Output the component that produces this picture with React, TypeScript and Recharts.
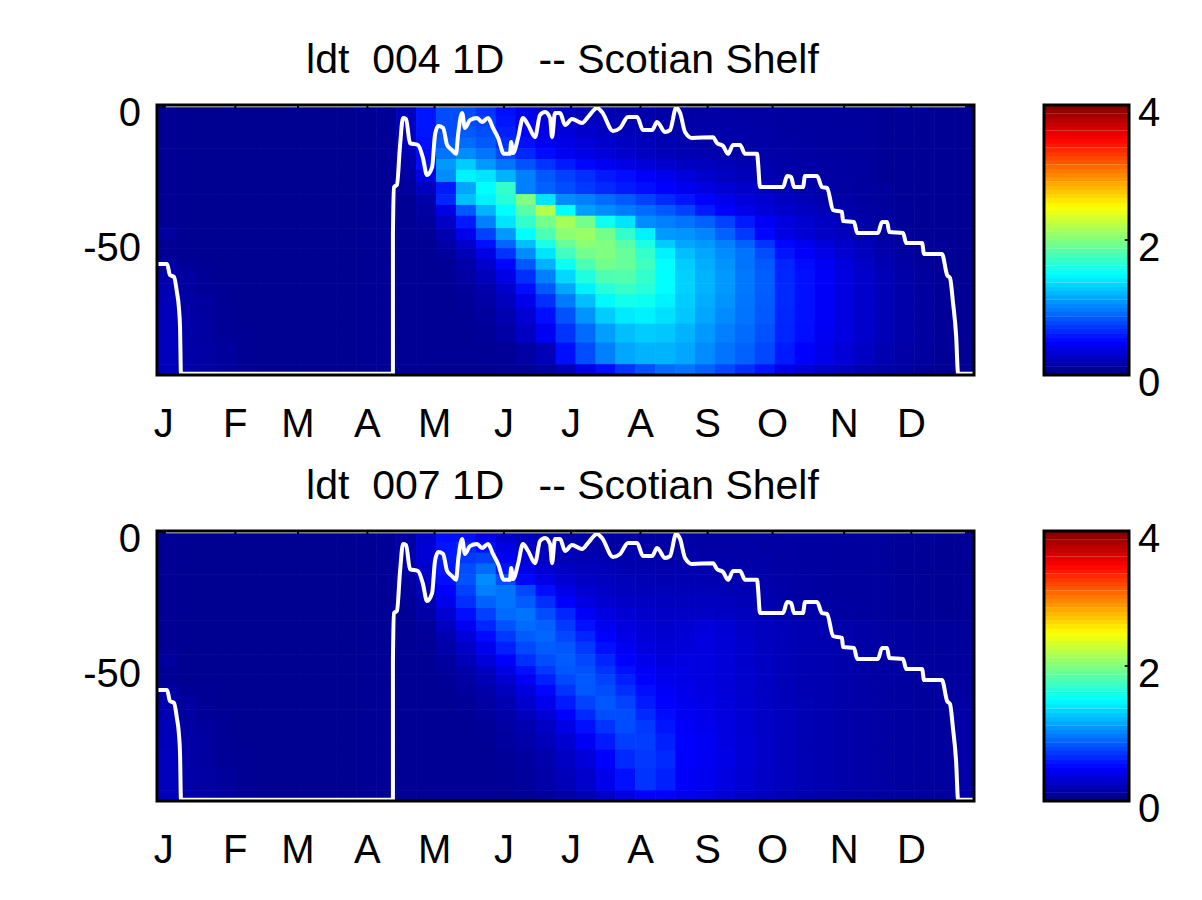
import React from "react";
import { ComposedChart, Scatter, Line, XAxis, YAxis, ReferenceArea, ReferenceLine } from "recharts";

const FONT = "'Liberation Sans', Arial, sans-serif";
const monthLabels = ["J", "F", "M", "A", "M", "J", "J", "A", "S", "O", "N", "D"];
const monthTicks = [3, 35, 63, 94, 124, 155, 185, 216, 246, 275, 307, 337];
const depthTicks = [-50, 0];
const colorTicks = [0, 2, 4];
const titles = ["ldt  004 1D   -- Scotian Shelf", "ldt  007 1D   -- Scotian Shelf"];
const depthEdges = [0, 4, 8, 12, 16, 20, 24, 28.5, 33, 37, 41, 45.6, 50, 53, 57, 61, 66, 70, 75, 81, 88, 96, 100];

const colorLevels = [
  0.03, 0.09, 0.16, 0.22, 0.28, 0.34, 0.41, 0.47, 0.53, 0.59, 0.66, 0.72, 0.78, 0.84, 0.91, 0.97,
  1.03, 1.09, 1.16, 1.22, 1.28, 1.34, 1.41, 1.47, 1.53, 1.59, 1.66, 1.72, 1.78, 1.84, 1.91, 1.97,
  2.03, 2.09, 2.16, 2.22, 2.28, 2.34, 2.41, 2.47, 2.53, 2.59, 2.66, 2.72, 2.78, 2.84, 2.91, 2.97,
  3.03, 3.09, 3.16, 3.22, 3.28, 3.34, 3.41, 3.47, 3.53, 3.59, 3.66, 3.72, 3.78, 3.84, 3.91, 3.97,
];

const mixedLayerDay = [0.4, 4.5, 5.8, 7.6, 8.9, 9.8, 10.3, 10.7, 105.4, 105.4, 105.4, 105.9, 107.2, 108.6, 109.9, 111.3, 113, 116.6, 118.8, 120.6, 122.9, 124.2, 125.6, 127.8, 129.6, 131.8, 133.6, 134.5, 136.3, 137.6, 139.8, 143, 145.2, 147.9, 150.1, 152.4, 155, 157.7, 158.2, 159.1, 161.3, 163.5, 165.8, 168.9, 171.1, 173.4, 175.6, 176.5, 177.8, 180.1, 182.3, 185.4, 189.9, 192.6, 196.6, 198.8, 203.7, 206.9, 210.4, 214.5, 217.1, 221.2, 223.4, 227, 229.2, 231.9, 233.7, 235.9, 239, 248.4, 250.2, 252.9, 255.1, 257.4, 260.5, 262.7, 268.1, 268.5, 269.4, 279.7, 281.5, 283.3, 284.6, 288.6, 289.5, 294.9, 297.1, 299.4, 302, 306, 306.5, 311.4, 312.8, 322.1, 323.9, 326.2, 327.1, 333.3, 334.7, 341.8, 342.7, 350.7, 353, 354.3, 355.6, 357, 357.9, 365];
const mixedLayerDepth = [-58.9, -58.9, -63, -63.7, -69.3, -75.2, -82.6, -99.5, -99.5, -82.6, -48.1, -30.4, -29.6, -14.8, -4.8, -5.2, -14.1, -14.8, -19.6, -25.9, -23, -11.1, -7.8, -8.5, -14.8, -16.7, -18.1, -11.1, -3, -8.5, -5.6, -4.8, -6.3, -4.8, -8.5, -12.2, -18.1, -18.1, -13.7, -17.8, -12.2, -4.8, -7.4, -11.9, -3.7, -2.6, -4.8, -11.9, -3, -3, -7.4, -5.2, -6.7, -4.4, -1.1, -2.6, -9.6, -8.5, -4.4, -4.4, -9.3, -9.3, -6.3, -10, -9.3, -1.1, -3, -10, -12.2, -11.9, -14.1, -15.2, -18.1, -14.8, -14.8, -18.1, -18.1, -21.1, -30.4, -30.4, -26.3, -26.7, -30.4, -30.4, -26.3, -26.3, -30.4, -30.7, -38.9, -39.6, -43, -43.3, -47.4, -47.4, -43.3, -43.3, -47, -47.4, -51.1, -51.1, -55.2, -55.2, -63, -64.1, -73, -85.2, -99.5, -99.5];

const L0 = [8, 7, 7, 7, 7, 7, 7, 7, 7, 7, 8];
const L11 = [12, 7, 7, 7, 7, 7, 7, 7, 7, 7, 8];
const L14 = [16, 10, 8, 7, 7, 7, 7, 7, 7, 7, 8];
const L15 = [18, 12, 9, 7, 7, 7, 7, 7, 7, 7, 8];
const L16 = [20, 13, 10, 8, 7, 7, 7, 7, 7, 7, 8];
const L17 = [22, 14, 12, 8, 7, 7, 7, 7, 7, 7, 8];
const L18 = [23, 15, 13, 9, 7, 7, 7, 7, 7, 7, 8];
const L19 = [24, 15, 13, 10, 8, 7, 7, 7, 7, 7, 8];
const L20 = [24, 16, 14, 11, 8, 7, 7, 7, 7, 7, 8];
const L21 = [24, 16, 14, 12, 9, 7, 7, 7, 7, 7, 8];

const heat004 = [
  [...L0, 10,24,58,80,80,70,55,42,32,26, 22,20,18,17,16,15,15,15,14,14, 12,12,12,11,11,10,9,9,8,8],
  [...L0, 10,24,58,80,80,75,58,45,36,30, 26,23,20,18,17,16,16,15,15,14, 13,12,12,11,11,10,9,9,8,8],
  [...L0, 10,24,58,80,85,80,62,50,42,36, 30,26,23,20,18,17,16,16,15,15, 13,13,12,12,11,10,9,9,8,8],
  [...L0, 10,23,56,85,92,85,68,55,46,40, 35,30,26,23,20,18,17,17,16,15, 14,13,12,12,11,10,9,9,8,8],
  [...L0, 10,20,53,95,105,95,78,65,54,45, 40,35,30,26,23,20,19,18,17,16, 15,14,13,12,11,10,9,9,8,8],
  [...L0, 10,17,55,110,130,110,95,82,70,60, 52,46,40,35,30,27,24,22,20,18, 16,15,14,13,12,10,9,9,8,8],
  [...L0, 9,14,40,105,145,140,120,100,85,75, 68,60,55,48,42,36,30,26,23,20, 17,16,14,13,12,10,9,9,8,8],
  [...L0, 8,12,25,60,115,150,170,100,88,80, 72,66,60,55,50,44,38,33,29,25, 21,18,16,14,12,11,9,9,8,8],
  [...L0, 8,10,18,65,125,145,165,200,140,105, 100,92,85,75,66,58,50,42,36,31, 26,22,18,15,13,11,10,9,8,8],
  [...L0, 8,9,14,40,85,120,150,185,220,150, 112,105,98,92,85,75,60,50,42,35, 30,26,22,18,14,12,10,9,8,8],
  [...L0, 8,8,12,28,60,100,140,170,195,215, 195,155,140,105,100,95,88,75,60,47, 38,32,27,22,17,13,10,9,8,8],
  [...L11, 8,8,10,20,42,75,110,150,180,205, 210,195,170,145,110,108,102,88,72,52, 40,34,28,24,19,14,11,9,8,8],
  [...L0, 8,8,9,15,30,55,90,125,160,190, 205,200,185,160,130,115,110,100,88,70, 52,44,36,28,22,16,12,10,9,8],
  [...L0, 8,8,8,12,22,40,70,105,140,175, 195,200,190,170,145,125,115,105,95,80, 58,48,40,32,25,18,13,10,9,8],
  [...L14, 8,8,8,10,17,30,52,85,120,155, 180,195,190,175,150,130,118,108,95,85, 64,54,46,36,28,20,15,11,9,8],
  [...L15, 8,8,8,9,14,23,40,68,100,135, 162,180,182,170,150,132,120,110,97,87, 65,56,48,38,30,22,16,12,10,8],
  [...L16, 8,8,8,8,12,18,30,55,85,115, 145,165,172,165,150,132,120,110,97,87, 66,56,48,38,30,22,17,13,10,8],
  [...L17, 8,8,8,8,10,15,24,42,68,98, 125,148,158,155,145,130,118,108,96,86, 66,56,48,38,30,22,17,13,10,8],
  [...L18, 8,8,8,8,9,12,19,33,55,82, 108,130,142,145,138,128,115,105,95,85, 65,56,48,38,30,22,17,13,10,8],
  [...L19, 8,8,8,8,8,10,15,26,45,70, 92,112,125,130,128,120,110,100,92,82, 64,55,46,38,30,22,17,13,10,8],
  [...L20, 8,8,8,8,8,9,10,14,22,55, 80,100,115,120,120,115,105,95,88,78, 60,50,42,34,27,20,15,12,9,8],
  [...L21, 8,8,8,8,8,8,9,10,14,22, 40,55,70,82,92,95,88,78,68,58, 42,36,30,25,20,16,13,10,9,8],
];

const heat007 = [
  [...L0, 10,14,30,55,55,42,30,24,20,18, 16,15,14,14,14,14,14,14,14,13, 13,13,12,12,11,11,10,10,9,9],
  [...L0, 10,15,33,58,65,55,38,28,22,19, 18,17,16,15,15,15,15,15,15,14, 14,13,13,12,12,11,10,10,9,9],
  [...L0, 10,15,33,60,72,75,45,33,26,22, 20,19,18,17,16,16,16,16,15,15, 14,13,13,12,12,11,10,10,9,9],
  [...L0, 10,14,30,58,80,92,58,42,33,27, 24,22,20,19,18,18,18,17,17,16, 14,13,13,12,12,11,10,10,9,9],
  [...L0, 10,13,27,55,82,105,80,52,40,32, 27,25,22,21,20,20,20,19,18,17, 15,14,13,12,12,11,10,10,9,9],
  [...L0, 9,12,22,50,75,100,95,78,55,40, 32,28,25,23,22,22,22,21,20,18, 16,14,13,12,12,11,10,10,9,9],
  [...L0, 8,10,18,42,68,88,95,86,68,50, 38,32,28,26,25,25,25,24,22,20, 17,15,14,13,12,11,10,10,9,9],
  [...L0, 8,9,15,32,55,75,92,95,80,65, 48,38,33,30,28,28,28,27,25,22, 18,16,15,13,12,11,10,10,9,9],
  [...L0, 8,8,12,25,45,65,82,92,88,72, 56,44,37,33,30,32,36,33,28,24, 22,20,19,17,15,14,13,11,11,11],
  [...L0, 8,8,10,20,36,54,72,86,90,78, 64,50,41,35,32,34,38,34,29,25, 22,20,19,17,15,14,13,11,11,11],
  [...L0, 8,8,9,16,28,44,62,78,86,84, 72,56,45,38,34,36,38,34,30,25, 22,20,19,17,15,14,13,11,11,12],
  [...L11, 8,8,8,13,22,35,50,68,80,86, 78,64,50,42,37,38,38,35,30,26, 22,20,19,17,15,14,13,11,11,12],
  [...L0, 8,8,8,11,17,27,40,56,72,84, 82,70,56,46,40,40,38,35,31,26, 22,20,19,17,15,14,13,11,11,12],
  [...L0, 8,8,8,10,14,21,32,46,62,78, 85,76,62,50,43,40,38,35,31,27, 22,20,19,17,15,14,13,11,11,12],
  [...L14, 8,8,8,9,12,17,25,37,52,70, 84,80,68,55,46,42,38,35,31,27, 23,20,19,17,15,14,13,11,12,13],
  [...L15, 8,8,8,8,10,14,20,30,43,60, 76,84,76,60,50,44,40,36,32,27, 23,21,19,17,15,14,13,11,12,14],
  [...L16, 8,8,8,8,9,12,17,24,34,50, 66,80,80,66,54,46,42,37,33,28, 24,21,19,17,15,14,13,11,12,15],
  [...L17, 8,8,8,8,8,10,14,19,27,40, 56,70,80,72,58,48,43,38,33,28, 24,21,19,17,15,14,13,12,12,15],
  [...L18, 8,8,8,8,8,9,12,16,22,32, 46,60,74,74,62,50,45,39,34,29, 24,21,19,17,15,14,13,12,12,15],
  [...L19, 8,8,8,8,8,8,10,13,18,26, 36,50,66,72,66,50,46,40,34,29, 24,21,19,17,15,14,13,12,12,15],
  [...L20, 8,8,8,8,8,8,9,11,16,22, 30,42,56,70,62,48,44,38,33,28, 24,21,19,17,15,14,13,12,12,15],
  [...L21, 8,8,8,8,8,8,8,9,12,17, 22,30,40,50,50,44,40,35,30,26, 22,20,18,16,15,14,13,12,12,15],
];

const clamp01 = (n: number) => Math.max(0, Math.min(1, n));
const jet = (value: number) => {
  const t = value / 4;
  const r = clamp01(Math.min(4 * t - 1.5, -4 * t + 4.5));
  const g = clamp01(Math.min(4 * t - 0.5, -4 * t + 3.5));
  const b = clamp01(Math.min(4 * t + 0.5, -4 * t + 2.5));
  return `rgb(${Math.round(r * 255)},${Math.round(g * 255)},${Math.round(b * 255)})`;
};

const PLOT_W = 817;
const PLOT_H = 270;
const DAYS = 365;

const toCells = (rows: number[][]) =>
  rows.flatMap((row, r) =>
    row.map((v, c) => {
      const dx = DAYS / row.length;
      return {
        x: (c + 0.5) * dx,
        y: -(depthEdges[r] + depthEdges[r + 1]) / 2,
        v: v / 100,
        dx,
        dy: depthEdges[r + 1] - depthEdges[r],
      };
    })
  );

const mixedLayer = mixedLayerDay.map((x, i) => ({ x, y: mixedLayerDepth[i] }));
const colorCells = colorLevels.map((y) => ({ x: 0.5, y, v: y }));

const HeatCell = (p: any) => {
  const w = (p.payload.dx * PLOT_W) / DAYS;
  const h = (p.payload.dy * PLOT_H) / 100;
  return <rect x={p.cx - w / 2} y={p.cy - h / 2} width={w + 0.6} height={h + 0.6} fill={jet(p.payload.v)} />;
};

const ColorCell = (p: any) => {
  const h = PLOT_H / colorLevels.length;
  return <rect x={p.cx - 42.5} y={p.cy - h / 2} width={85} height={h + 0.6} fill={jet(p.payload.v)} />;
};

const txt = { fontFamily: FONT, fontSize: 40, fill: "#000" };

const MonthTick = (p: any) => (
  <text x={p.x} y={p.y + 60} textAnchor="middle" {...txt}>
    {monthLabels[monthTicks.indexOf(p.payload.value)]}
  </text>
);
const DepthTick = (p: any) => (
  <text x={p.x} y={p.y + 21} textAnchor="end" {...txt}>
    {p.payload.value}
  </text>
);
const ColorTick = (p: any) => (
  <text x={p.x} y={p.y + 21} textAnchor="start" {...txt}>
    {p.payload.value}
  </text>
);

const Panel = ({ rows, title, top }: { rows: number[][]; title: string; top: number }) => (
  <>
    <div style={{ position: "absolute", left: 0, top }}>
      <ComposedChart width={1202} height={450} margin={{ top: 105, left: 57, right: 228, bottom: 0 }}>
        <XAxis
          dataKey="x"
          type="number"
          domain={[0, DAYS]}
          ticks={monthTicks}
          interval={0}
          axisLine={false}
          tickLine={false}
          tickSize={0}
          height={75}
          tick={MonthTick}
          allowDataOverflow
        />
        <YAxis
          dataKey="y"
          type="number"
          domain={[-100, 0]}
          ticks={depthTicks}
          interval={0}
          axisLine={false}
          tickLine={false}
          tickSize={0}
          width={100}
          tick={(p: any) => <DepthTick {...p} x={141} />}
          allowDataOverflow
        />
        <Scatter data={toCells(rows)} shape={HeatCell} isAnimationActive={false} zIndex={0} />
        <Line data={mixedLayer} dataKey="y" stroke="#fff" strokeWidth={4} strokeLinejoin="round" dot={false} type="monotoneX" isAnimationActive={false} zIndex={700} />
        <ReferenceLine segment={[{ x: 4, y: -0.6 }, { x: 361, y: -0.6 }]} stroke="#fff" strokeWidth={1.5} zIndex={800} />
        {monthTicks.map((d) => (
          <ReferenceLine key={d} segment={[{ x: d, y: 0 }, { x: d, y: -1.2 }]} stroke="#000" strokeWidth={2} zIndex={810} />
        ))}
        <ReferenceArea x1={0} x2={DAYS} y1={-100} y2={0} fill="none" stroke="#000" strokeWidth={3} ifOverflow="visible" zIndex={820} />
        <text x={562.5} y={73} textAnchor="middle" style={{ whiteSpace: "pre" }} {...txt} fontSize={41}>
          {title}
        </text>
      </ComposedChart>
    </div>
    <div style={{ position: "absolute", left: 1000, top }}>
      <ComposedChart width={202} height={450} margin={{ top: 105, left: 44, right: 0, bottom: 75 }}>
        <XAxis dataKey="x" type="number" domain={[0, 1]} hide />
        <YAxis
          dataKey="y"
          type="number"
          orientation="right"
          domain={[0, 4]}
          ticks={colorTicks}
          interval={0}
          axisLine={false}
          tickLine={false}
          tickSize={0}
          width={73}
          tick={(p: any) => <ColorTick {...p} x={138} />}
        />
        <Scatter data={colorCells} shape={ColorCell} isAnimationActive={false} zIndex={0} />
        <ReferenceLine segment={[{ x: 0.95, y: 2 }, { x: 1, y: 2 }]} stroke="#000" strokeWidth={2} zIndex={810} />
        <ReferenceArea x1={0} x2={1} y1={0} y2={4} fill="none" stroke="#000" strokeWidth={3} ifOverflow="visible" zIndex={820} />
      </ComposedChart>
    </div>
  </>
);

export default function App() {
  return (
    <div style={{ position: "absolute", left: 0, top: 0, width: 1202, height: 900, background: "#fff", overflow: "hidden" }}>
      <Panel rows={heat004} title={titles[0]} top={0} />
      <Panel rows={heat007} title={titles[1]} top={426} />
    </div>
  );
}
